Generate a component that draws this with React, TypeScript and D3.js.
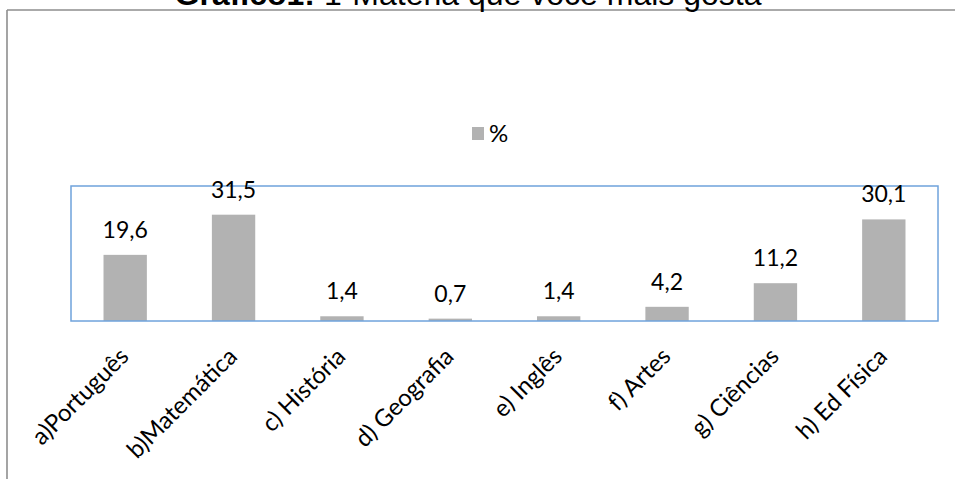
import React from "react";
import * as d3 from "d3";

const categories = [
  "a)Português",
  "b)Matemática",
  "c) História",
  "d) Geografia",
  "e) Inglês",
  "f) Artes",
  "g) Ciências",
  "h) Ed Física",
];
const values = [19.6, 31.5, 1.4, 0.7, 1.4, 4.2, 11.2, 30.1];
const seriesName = "%";
const titleBold = "Gráfico1:";
const titleRest = " 1-Matéria que você mais gosta";

const W = 955;
const H = 479;
const plot = { left: 71, right: 938, top: 186, bottom: 321 };

export default function App() {
  const x = d3
    .scaleBand<string>()
    .domain(categories)
    .range([plot.left, plot.right])
    .paddingInner(0.6)
    .paddingOuter(0.3);
  const y = d3.scaleLinear().domain([0, 40]).range([plot.bottom, plot.top]);
  const fmt = (v: number) => d3.format(".1f")(v).replace(".", ",");
  const labelFont = "Lato, 'Open Sans', sans-serif";

  return (
    <svg
      width={W}
      height={H}
      style={{ position: "absolute", left: 0, top: 0, background: "#fff" }}
    >
      {/* outer chart frame */}
      <line x1={7} y1={10} x2={W} y2={10} stroke="#8e8e8e" strokeWidth={1.6} />
      <line x1={7} y1={10} x2={7} y2={H} stroke="#8e8e8e" strokeWidth={1.6} />

      {/* title (partially cut off at the top, as in the reference) */}
      <text
        x={468}
        y={5}
        textAnchor="middle"
        fontFamily="'Liberation Sans', Arial, sans-serif"
        fontSize={32}
        fill="#000"
      >
        <tspan fontWeight="bold">{titleBold}</tspan>
        <tspan>{titleRest}</tspan>
      </text>

      {/* legend */}
      <rect x={472} y={127} width={12} height={13} fill="#b2b2b2" />
      <text x={489} y={142} fontFamily={labelFont} fontSize={24} fill="#000">
        {seriesName}
      </text>

      {/* bars */}
      {values.map((v, i) => {
        const c = categories[i];
        const bx = x(c)!;
        return (
          <rect
            key={c}
            x={bx}
            y={y(v)}
            width={x.bandwidth()}
            height={plot.bottom - y(v)}
            fill="#b2b2b2"
          />
        );
      })}

      {/* plot area frame */}
      <rect
        x={plot.left}
        y={plot.top}
        width={plot.right - plot.left}
        height={plot.bottom - plot.top}
        fill="none"
        stroke="#6fa3dc"
        strokeWidth={1.5}
      />

      {/* data labels */}
      {values.map((v, i) => {
        const c = categories[i];
        const cx = x(c)! + x.bandwidth() / 2;
        return (
          <text
            key={c}
            x={cx}
            y={y(v) - 17}
            textAnchor="middle"
            fontFamily={labelFont}
            fontSize={23}
            fill="#000"
          >
            {fmt(v)}
          </text>
        );
      })}

      {/* category labels */}
      {categories.map((c) => {
        const cx = x(c)! + x.bandwidth() / 2;
        const ax = cx + 5;
        const ay = 358;
        return (
          <text
            key={c}
            x={ax}
            y={ay}
            textAnchor="end"
            transform={`rotate(-45, ${ax}, ${ay})`}
            fontFamily={labelFont}
            fontSize={24}
            fill="#000"
          >
            {c}
          </text>
        );
      })}
    </svg>
  );
}
